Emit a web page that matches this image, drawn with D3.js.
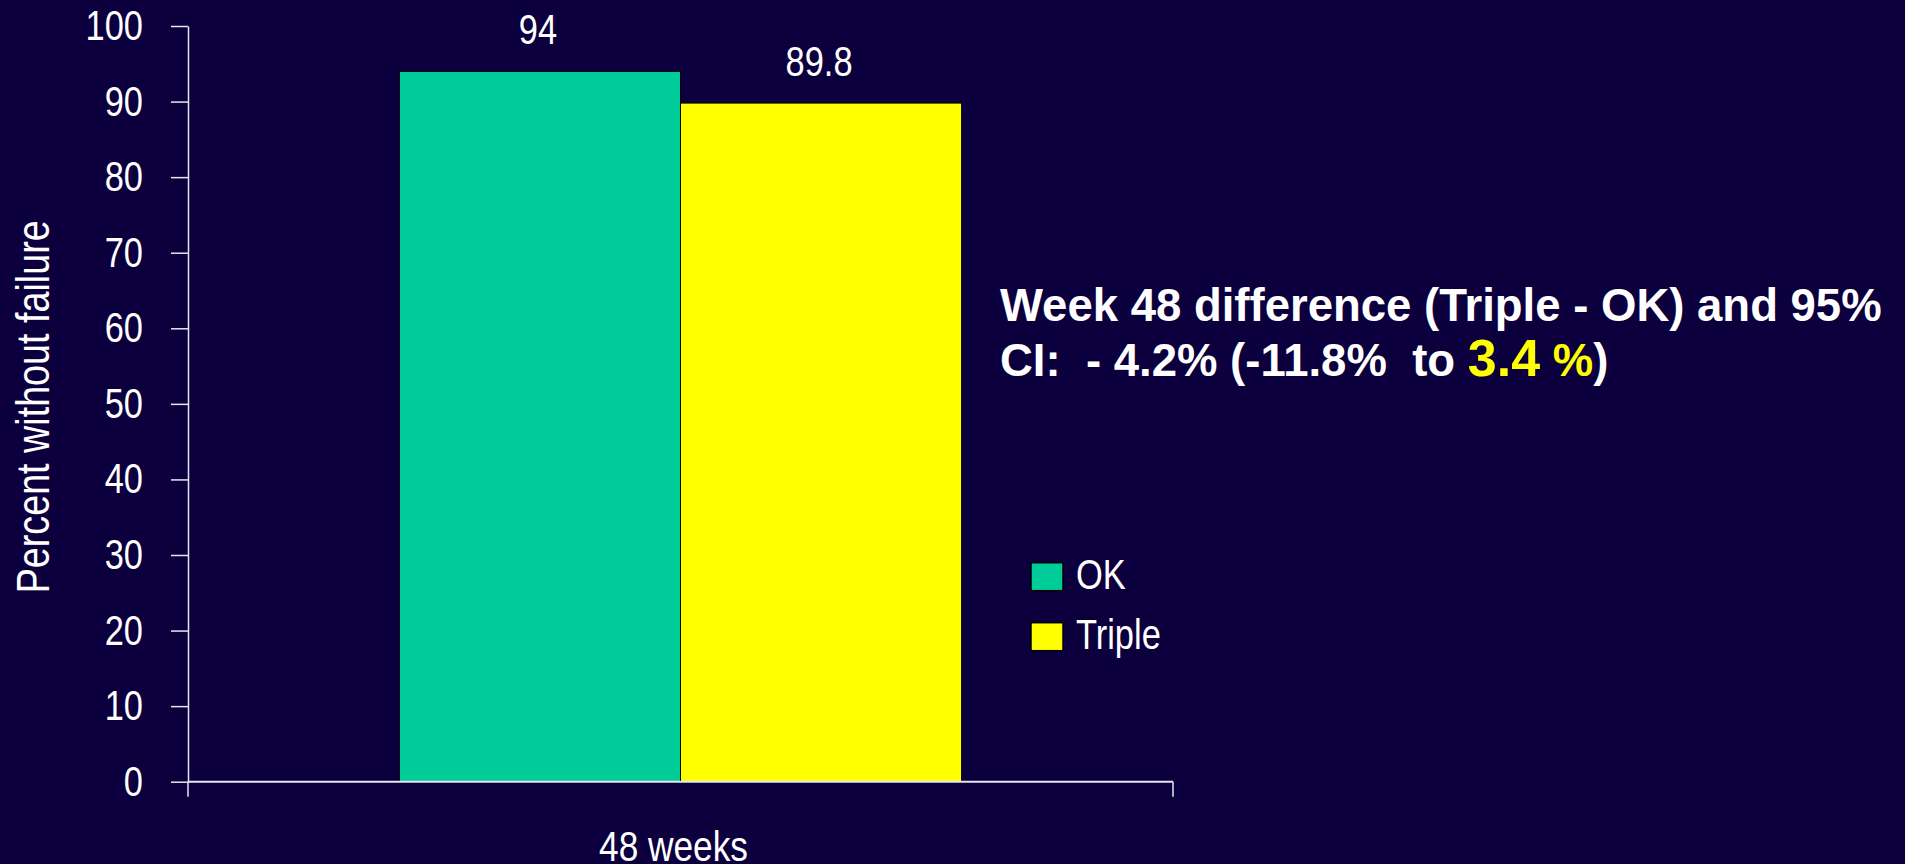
<!DOCTYPE html>
<html>
<head>
<meta charset="utf-8">
<script src="https://cdn.jsdelivr.net/npm/d3@7"></script>
<style>
  html, body { margin: 0; padding: 0; background: #0b003d; overflow: hidden; }
  svg { display: block; }
  .narrow { font-family: "Liberation Sans", Arial, sans-serif; }
</style>
</head>
<body>
<svg id="chart" width="1905" height="864"></svg>
<script>
// Chart data
const categories = ["48 weeks"];
const seriesNames = ["OK", "Triple"];
const okValues = [94];
const tripleValues = [89.8];
const yTickValues = [0, 10, 20, 30, 40, 50, 60, 70, 80, 90, 100];
const seriesColors = ["#00cc99", "#ffff00"];
const yAxisTitle = "Percent without failure";
const noteLine1 = "Week 48 difference (Triple - OK) and 95%";
const noteLine2Parts = [
  { text: "CI:  - 4.2% (-11.8%  to ", fill: "#ffffff", size: 45.5 },
  { text: "3.4", fill: "#ffff00", size: 52 },
  { text: " %", fill: "#ffff00", size: 45.5 },
  { text: ")", fill: "#ffffff", size: 45.5 }
];

const rows = categories.map((c, i) => ({
  category: c,
  values: [
    { series: seriesNames[0], value: okValues[i] },
    { series: seriesNames[1], value: tripleValues[i] }
  ]
}));

// Condensed look for the chart labels: horizontal squeeze around the anchor
const SQUEEZE = 0.82;
function squeezeAt(x, y) { return `translate(${x},${y}) scale(${SQUEEZE},1)`; }

const svg = d3.select("#chart");
svg.append("rect").attr("width", 1905).attr("height", 864).attr("fill", "#0b003d");

const axisColor = "#e6e6ee";
const plot = { left: 188, right: 1173, top: 26, bottom: 781.7 };

const y = d3.scaleLinear().domain([0, 100]).range([plot.bottom, plot.top]);
const x0 = d3.scaleBand().domain(categories).range([plot.left, plot.right])
  .paddingInner(0).paddingOuter(0.376).align(0.5);
const x1 = d3.scaleBand().domain(seriesNames).range([0, x0.bandwidth()]).padding(0);
const color = d3.scaleOrdinal().domain(seriesNames).range(seriesColors);

// Bars
const groups = svg.append("g").selectAll("g").data(rows).join("g")
  .attr("transform", d => `translate(${x0(d.category)},0)`);

groups.selectAll("rect").data(d => d.values).join("rect")
  .attr("x", d => x1(d.series))
  .attr("y", d => y(d.value))
  .attr("width", x1.bandwidth())
  .attr("height", d => y(0) - y(d.value))
  .attr("fill", d => color(d.series))
  .attr("stroke", "#000")
  .attr("stroke-width", 1);

// Value labels
groups.selectAll("text.val").data(d => d.values).join("text")
  .attr("class", "val narrow")
  .attr("transform", d => squeezeAt(x1(d.series) + x1.bandwidth() / 2 - 2, y(d.value) - 27))
  .attr("text-anchor", "middle")
  .attr("fill", "#ffffff")
  .attr("font-size", 42)
  .text(d => d.value);

// Y axis
const tickSize = 17, tickPad = 28;
const yAxis = svg.append("g")
  .attr("transform", `translate(${plot.left},0)`)
  .call(d3.axisLeft(y).tickValues(yTickValues).tickSize(tickSize).tickSizeOuter(0).tickPadding(tickPad));
yAxis.select(".domain").attr("stroke", axisColor).attr("stroke-width", 1.5);
yAxis.selectAll(".tick line").attr("stroke", axisColor).attr("stroke-width", 1.5);
yAxis.selectAll(".tick text")
  .attr("class", "narrow")
  .attr("x", 0)
  .attr("transform", squeezeAt(-(tickSize + tickPad), 0))
  .attr("fill", "#ffffff")
  .attr("font-size", 42);

// X axis: baseline with category boundary ticks
const xAxis = svg.append("g");
xAxis.append("line")
  .attr("x1", plot.left).attr("x2", plot.right)
  .attr("y1", y(0)).attr("y2", y(0))
  .attr("stroke", axisColor).attr("stroke-width", 2);
xAxis.selectAll("line.bound").data(x0.range()).join("line")
  .attr("class", "bound")
  .attr("x1", d => d).attr("x2", d => d)
  .attr("y1", y(0)).attr("y2", y(0) + 15)
  .attr("stroke", axisColor).attr("stroke-width", 1.5);
xAxis.selectAll("text").data(categories).join("text")
  .attr("class", "narrow")
  .attr("transform", d => squeezeAt(x0(d) + x0.bandwidth() / 2 - 7, 861))
  .attr("text-anchor", "middle")
  .attr("fill", "#ffffff")
  .attr("font-size", 43)
  .text(d => d);

// Y axis title
svg.append("text")
  .attr("class", "narrow")
  .attr("transform", `translate(49,${(plot.top + plot.bottom) / 2 + 3}) rotate(-90) scale(${SQUEEZE},1)`)
  .attr("text-anchor", "middle")
  .attr("fill", "#ffffff")
  .attr("font-size", 46)
  .text(yAxisTitle);

// Legend
const legend = svg.append("g").attr("transform", "translate(1031,562.7)");
const li = legend.selectAll("g").data(seriesNames).join("g")
  .attr("transform", (d, i) => `translate(0,${i * 60})`);
li.append("rect")
  .attr("width", 32).attr("height", 28)
  .attr("fill", d => color(d))
  .attr("stroke", "#000").attr("stroke-width", 1.5);
li.append("text")
  .attr("class", "narrow")
  .attr("transform", squeezeAt(45, 26))
  .attr("fill", "#ffffff")
  .attr("font-size", 42)
  .text(d => d);

// Difference note
const note = svg.append("g")
  .attr("font-family", "'Liberation Sans', Arial, sans-serif")
  .attr("font-weight", "bold");
note.append("text")
  .attr("x", 1000).attr("y", 320.7)
  .attr("fill", "#ffffff").attr("font-size", 45.5)
  .text(noteLine1);
note.append("text")
  .attr("x", 1000).attr("y", 375.7)
  .attr("xml:space", "preserve")
  .style("white-space", "pre")
  .selectAll("tspan").data(noteLine2Parts).join("tspan")
  .attr("fill", d => d.fill)
  .attr("font-size", d => d.size)
  .text(d => d.text);
</script>
</body>
</html>
